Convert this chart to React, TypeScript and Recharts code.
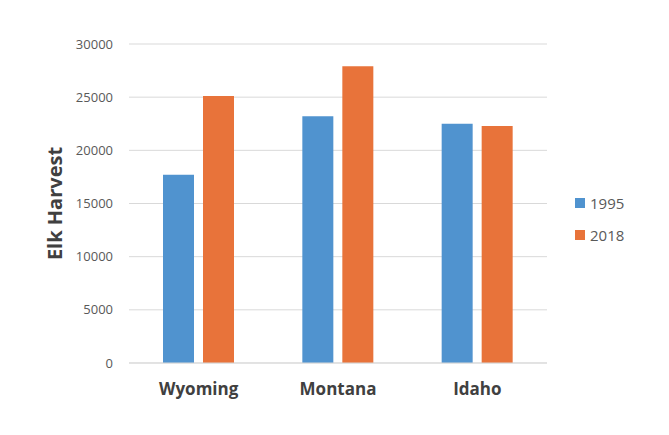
import { Bar, BarChart, CartesianGrid, Legend, XAxis, YAxis } from 'recharts'

const states = ['Wyoming', 'Montana', 'Idaho']
const harvest1995 = [17700, 23200, 22500]
const harvest2018 = [25100, 27900, 22300]
const yTicks = [0, 5000, 10000, 15000, 20000, 25000, 30000]

const data = states.map((state, i) => ({
  state,
  y1995: harvest1995[i],
  y2018: harvest2018[i],
}))

const FONT = '"Open Sans", sans-serif'
const BLUE = '#5093cf'
const ORANGE = '#e8733a'

function renderLegend() {
  const items = [
    { label: '1995', color: BLUE },
    { label: '2018', color: ORANGE },
  ]
  return (
    <ul style={{ listStyle: 'none', margin: 0, padding: 0, fontFamily: FONT }}>
      {items.map((item) => (
        <li key={item.label} style={{ display: 'flex', alignItems: 'center', height: 32 }}>
          <span style={{ width: 10, height: 10, background: item.color, display: 'inline-block' }} />
          <span style={{ marginLeft: 5, fontSize: 15, color: '#595959' }}>{item.label}</span>
        </li>
      ))}
    </ul>
  )
}

export default function App() {
  return (
    <div style={{ margin: -8, width: 669, height: 435, background: '#fff' }}>
      <BarChart
        width={669}
        height={435}
        data={data}
        // the vertical legend reserves its own 80px on the right
        margin={{ top: 44, right: 42, bottom: 42, left: 29 }}
        barSize={31}
        barGap={9}
      >
        <CartesianGrid vertical={false} stroke="#d9d9d9" />
        <XAxis
          dataKey="state"
          height={30}
          axisLine={{ stroke: '#d9d9d9' }}
          tickLine={false}
          tickSize={0}
          tickMargin={20}
          tick={{ fill: '#404040', fontSize: 17, fontWeight: 700, fontFamily: FONT }}
        />
        <YAxis
          width={100}
          domain={[0, 30000]}
          ticks={yTicks}
          axisLine={false}
          tickLine={false}
          tickSize={0}
          tickMargin={16}
          tick={{ fill: '#595959', fontSize: 13, fontFamily: FONT }}
          label={{
            value: 'Elk Harvest',
            angle: -90,
            position: 'insideLeft',
            offset: 26,
            style: { textAnchor: 'middle', fill: '#404040', fontSize: 20, fontWeight: 700, fontFamily: FONT },
          }}
        />
        <Legend
          layout="vertical"
          align="right"
          verticalAlign="middle"
          content={renderLegend}
          wrapperStyle={{ left: 575, top: 187, width: 80 }}
        />
        <Bar dataKey="y1995" name="1995" fill={BLUE} isAnimationActive={false} />
        <Bar dataKey="y2018" name="2018" fill={ORANGE} isAnimationActive={false} />
      </BarChart>
    </div>
  )
}
